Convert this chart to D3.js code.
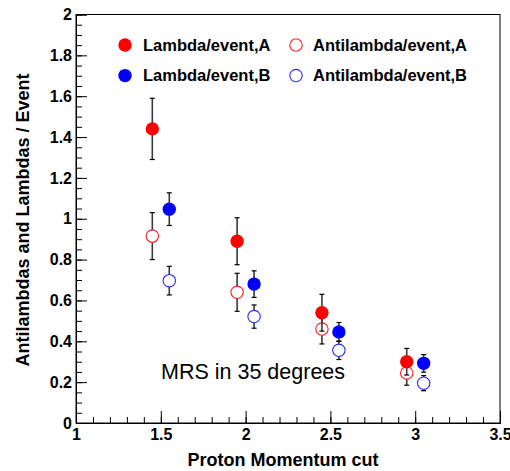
<!DOCTYPE html>
<html>
<head>
<meta charset="utf-8">
<script src="https://cdn.jsdelivr.net/npm/d3@7"></script>
<style>
  html, body { margin: 0; padding: 0; background: #fff; }
  svg { display: block; }
</style>
</head>
<body>
<svg id="chart" width="510" height="471"></svg>
<script>
// Momentum cut positions for each series (A slightly left, B slightly right)
const cutsA = [1.45, 1.95, 2.45, 2.95];
const cutsB = [1.55, 2.05, 2.55, 3.05];

// Yields per event with their errors
const lambdaA      = [1.44, 0.89, 0.54, 0.30];
const lambdaAErr   = [0.15, 0.115, 0.09, 0.065];
const antiLambdaA    = [0.915, 0.64, 0.46, 0.245];
const antiLambdaAErr = [0.115, 0.093, 0.073, 0.06];
const lambdaB      = [1.047, 0.68, 0.446, 0.292];
const lambdaBErr   = [0.08, 0.065, 0.046, 0.043];
const antiLambdaB    = [0.697, 0.521, 0.356, 0.195];
const antiLambdaBErr = [0.07, 0.057, 0.045, 0.037];

const seriesNames = ["Lambda/event,A", "Antilambda/event,A", "Lambda/event,B", "Antilambda/event,B"];

const xTicks = [1, 1.5, 2, 2.5, 3, 3.5];
const yTicks = [0, 0.2, 0.4, 0.6, 0.8, 1, 1.2, 1.4, 1.6, 1.8, 2];

const svg = d3.select("#chart");
const plotLeft = 76, plotRight = 500, plotTop = 14.5, plotBottom = 423;

const x = d3.scaleLinear().domain([1, 3.5]).range([plotLeft, plotRight]);
const y = d3.scaleLinear().domain([0, 2]).range([plotBottom, plotTop]);

const fontBold = "'Liberation Sans', Arial, Helvetica, sans-serif";

// frame
svg.append("rect")
  .attr("x", plotLeft).attr("y", plotTop)
  .attr("width", plotRight - plotLeft).attr("height", plotBottom - plotTop)
  .attr("fill", "none").attr("stroke", "#000").attr("stroke-width", 1);

// x axis: minor ticks, then labelled major ticks
const xMinor = d3.range(1, 3.5001, 0.1).map(v => +v.toFixed(2));
svg.append("g")
  .attr("transform", `translate(0,${plotBottom})`)
  .call(d3.axisBottom(x).tickValues(xMinor).tickSize(-6).tickFormat(""))
  .call(g => g.select(".domain").remove());
const xAx = svg.append("g")
  .attr("transform", `translate(0,${plotBottom})`)
  .call(d3.axisBottom(x).tickValues(xTicks).tickSize(-12).tickPadding(5)
    .tickFormat(d => String(d)));
xAx.select(".domain").attr("stroke", "#000");
xAx.selectAll("text")
  .attr("font-family", fontBold).attr("font-weight", "bold")
  .attr("font-size", 16).attr("fill", "#000")
  .attr("y", 6).attr("dy", "0.71em");

// y axis: minor ticks, then labelled major ticks
const yMinor = d3.range(0, 2.0001, 0.05).map(v => +v.toFixed(2));
svg.append("g")
  .attr("transform", `translate(${plotLeft},0)`)
  .call(d3.axisLeft(y).tickValues(yMinor).tickSize(-6).tickFormat(""))
  .call(g => g.select(".domain").remove());
const yAx = svg.append("g")
  .attr("transform", `translate(${plotLeft},0)`)
  .call(d3.axisLeft(y).tickValues(yTicks).tickSize(-11).tickPadding(3)
    .tickFormat(d => String(d)));
yAx.select(".domain").attr("stroke", "#000");
yAx.selectAll("text")
  .attr("x", -4)
  .attr("font-family", fontBold).attr("font-weight", "bold")
  .attr("font-size", 16).attr("fill", "#000");

// axis titles
svg.append("text")
  .attr("x", 283).attr("y", 466)
  .attr("text-anchor", "middle")
  .attr("font-family", fontBold).attr("font-weight", "bold")
  .attr("font-size", 18).attr("fill", "#000")
  .text("Proton Momentum cut");

svg.append("text")
  .attr("transform", "translate(29,220) rotate(-90)")
  .attr("text-anchor", "middle")
  .attr("font-family", fontBold).attr("font-weight", "bold")
  .attr("font-size", 18).attr("fill", "#000")
  .text("Antilambdas and Lambdas / Event");

// annotation
svg.append("text")
  .attr("x", 161).attr("y", 378.5)
  .attr("font-family", "'Liberation Sans', Arial, sans-serif")
  .attr("font-size", 21.5).attr("fill", "#000")
  .text("MRS in 35 degrees");

// data series, drawn with open markers first so filled error bars sit on top
const series = [
  { xs: cutsA, v: antiLambdaA, e: antiLambdaAErr, color: "#ff2020", filled: false },
  { xs: cutsA, v: lambdaA,     e: lambdaAErr,     color: "#ff0000", filled: true },
  { xs: cutsB, v: antiLambdaB, e: antiLambdaBErr, color: "#2a2aff", filled: false },
  { xs: cutsB, v: lambdaB,     e: lambdaBErr,     color: "#0000ff", filled: true }
];
const r = 6.7, cap = 2.5;

series.forEach(s => {
  const g = svg.append("g");
  const pts = s.xs.map((xv, i) => ({ x: xv, v: s.v[i], e: s.e[i] }));
  g.selectAll("line.stem").data(pts).enter().append("line")
    .attr("x1", d => x(d.x)).attr("x2", d => x(d.x))
    .attr("y1", d => y(d.v + d.e)).attr("y2", d => y(d.v - d.e))
    .attr("stroke", "#3a3a3a").attr("stroke-width", 1.6);
  ["top", "bot"].forEach(k => {
    g.selectAll("line.cap" + k).data(pts).enter().append("line")
      .attr("x1", d => x(d.x) - cap).attr("x2", d => x(d.x) + cap)
      .attr("y1", d => y(k === "top" ? d.v + d.e : d.v - d.e))
      .attr("y2", d => y(k === "top" ? d.v + d.e : d.v - d.e))
      .attr("stroke", "#000").attr("stroke-width", 1.2);
  });
  g.selectAll("circle").data(pts).enter().append("circle")
    .attr("cx", d => x(d.x)).attr("cy", d => y(d.v))
    .attr("r", s.filled ? r : r - 0.5)
    .attr("fill", s.filled ? s.color : "#fff")
    .attr("stroke", s.color).attr("stroke-width", s.filled ? 0 : 1.1);
});

// legend
const legend = [
  { name: seriesNames[0], color: "#ff0000", filled: true,  cx: 125, cy: 45,   tx: 143 },
  { name: seriesNames[1], color: "#ff2020", filled: false, cx: 296, cy: 45,   tx: 313 },
  { name: seriesNames[2], color: "#0000ff", filled: true,  cx: 125, cy: 75.6, tx: 143 },
  { name: seriesNames[3], color: "#2a2aff", filled: false, cx: 296, cy: 75.6, tx: 313 }
];
const lg = svg.append("g");
legend.forEach(d => {
  lg.append("circle")
    .attr("cx", d.cx).attr("cy", d.cy)
    .attr("r", d.filled ? r : r - 0.5)
    .attr("fill", d.filled ? d.color : "#fff")
    .attr("stroke", d.color).attr("stroke-width", d.filled ? 0 : 1.1);
  lg.append("text")
    .attr("x", d.tx).attr("y", d.cy + 5.5)
    .attr("font-family", fontBold).attr("font-weight", "bold")
    .attr("font-size", 16.5).attr("fill", "#000")
    .text(d.name);
});
</script>
</body>
</html>
